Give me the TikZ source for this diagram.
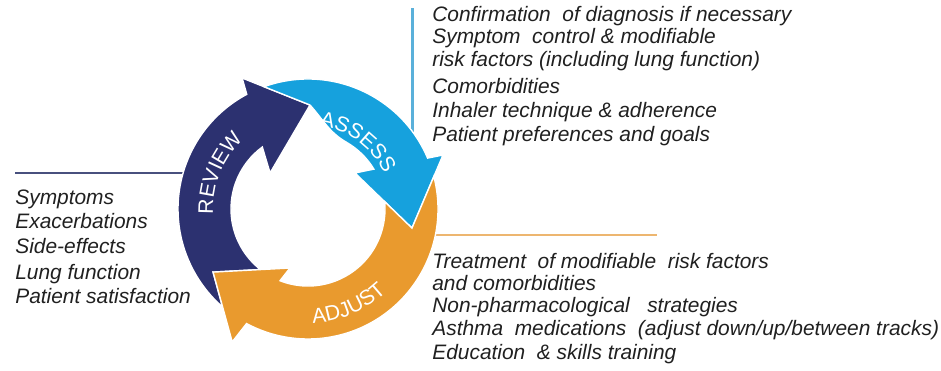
\documentclass[tikz,border=0pt]{standalone}
\usepackage{fontspec}
\setmainfont{Liberation Sans}
\usetikzlibrary{decorations.text}
\definecolor{navy}{RGB}{44,49,112}
\definecolor{cyanb}{RGB}{22,161,221}
\definecolor{orng}{RGB}{233,154,46}
\definecolor{txt}{RGB}{32,32,32}
\definecolor{lnavy}{RGB}{72,80,126}
\definecolor{lblue}{RGB}{90,176,218}
\definecolor{lorange}{RGB}{237,182,112}
\newcommand{\lblfont}{\fontsize{12}{13}\selectfont}
\begin{document}
\begin{tikzpicture}[x=0.02cm,y=0.02cm,
  item/.style={anchor=base west, inner sep=0pt, text=txt,
    font=\fontsize{11.9}{13}\selectfont\itshape},
  arrowshape/.style={draw=white, line width=0.8pt, line join=miter},
  leader/.style={line width=1.3pt}]
\useasboundingbox (0,0) rectangle (941,370);

% leader lines
\coordinate (ls) at (15,197);
\coordinate (le) at (192,197);
\coordinate (vs) at (412.5,362);
\coordinate (ve) at (412.5,225);
\coordinate (os) at (425,135);
\coordinate (oe) at (657,135);
\draw[leader, lnavy] (ls) -- (le);
\draw[leader, lblue] (vs) -- (ve);
\draw[leader, lorange] (os) -- (oe);

% cycle
\begin{scope}[shift={(308,161)}]
\coordinate (C) at (0,0);
% REVIEW
\fill[navy, arrowshape] (231.8:77) -- (213.6:114) -- (228.9:130)
  arc[start angle=228.9, end angle=118.1, radius=130]
  -- (116.7:146.7) -- (88.9:104) -- (136.5:52.3) -- (126.4:77)
  arc[start angle=126.4, end angle=231.8, radius=77] -- cycle;
% ASSESS
\fill[cyanb, arrowshape] (109.8:130)
  arc[start angle=109.8, end angle=23.05, radius=130]
  -- (21.8:145.4) -- (-10.4:105.7) -- (37.5:59.2) -- (31.2:77)
  arc[start angle=31.2, end angle=60, radius=77]
  to[out=150, in=-48] (88.9:104) -- cycle;
% ADJUST
\fill[orng, arrowshape] (14.5:130)
  arc[start angle=14.5, end angle=-118.2, radius=130]
  -- (240.3:153) -- (213.6:114) -- (253:61.7) -- (248.7:77)
  arc[start angle=248.7, end angle=365.5, radius=77]
  -- (-10.4:105.7) -- cycle;
% labels
\path[decorate, decoration={text along path, text align=center,
  text={|\color{white}\lblfont|REVIEW}}]
  (192:95) arc[start angle=192, end angle=124, radius=95];
\path[decorate, decoration={text along path, text align=center,
  text={|\color{white}\lblfont|ASSESS}}]
  (90:84) arc[start angle=90, end angle=17, radius=84];
\path[decorate, decoration={text along path, text align=center,
  text={|\color{white}\lblfont|ADJUST}}]
  (260:114) arc[start angle=260, end angle=326, radius=114];
\end{scope}

% left list
\node[item] (r1) at (15,166) {Symptoms};
\node[item] (r2) at (15,142) {Exacerbations};
\node[item] (r3) at (15,117) {Side-effects};
\node[item] (r4) at (15,91) {Lung function};
\node[item] (r5) at (15,67) {Patient satisfaction};

% assess list
\node[item] (a1) at (432,349) {Confirmation\ \ of diagnosis if necessary};
\node[item] (a2) at (432,327) {Symptom\ \ control \& modifiable};
\node[item] (a3) at (432,304) {risk factors (including\ lung function)};
\node[item] (a4) at (432,277) {Comorbidities};
\node[item] (a5) at (432,253) {Inhaler technique \& adherence};
\node[item] (a6) at (432,229) {Patient preferences\ and goals};

% adjust list
\node[item] (j1) at (432,102) {Treatment\ \ of modifiable\ \ risk factors};
\node[item] (j2) at (432,80) {and comorbidities};
\node[item] (j3) at (432,58) {Non-pharmacological\ \ \ strategies};
\node[item] (j4) at (432,35) {Asthma\ \ medications\ \ (adjust down/up/between tracks)};
\node[item] (j5) at (432,11) {Education\ \ \& skills training};
\end{tikzpicture}
\end{document}
